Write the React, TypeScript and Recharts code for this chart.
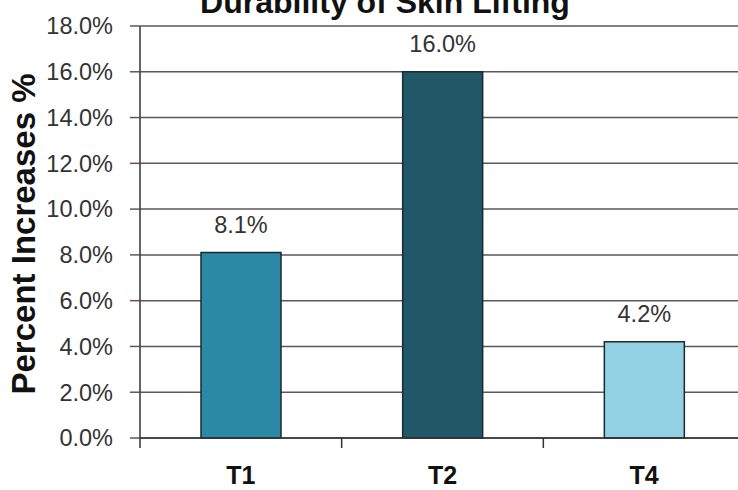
import { BarChart, Bar, Cell, XAxis, YAxis, CartesianGrid, LabelList } from "recharts";

const categories = ["T1", "T2", "T4"];
const increases = [8.1, 16.0, 4.2];
const barColors = ["#2a89a5", "#205868", "#92d0e3"];
const yTicks = [0, 2, 4, 6, 8, 10, 12, 14, 16, 18];

const data = categories.map((name, i) => ({ name, value: increases[i] }));

const pct = (v: number) => `${Number(v).toFixed(1)}%`;

// x tick: label + a small tick mark on the left boundary of each category
function CategoryTick(props: any) {
  const { x, y, payload } = props;
  const off = payload && payload.offset ? payload.offset : 100.8;
  return (
    <g>
      <line x1={x - off} y1={y} x2={x - off} y2={y + 10} stroke="#333" strokeWidth={1.5} />
      <text
        x={x}
        y={y + 46}
        textAnchor="middle"
        fontFamily="'Liberation Sans Narrow', 'Liberation Sans', Arial, sans-serif"
        fontWeight="bold"
        fontSize={25}
        fill="#111"
      >
        {payload.value}
      </text>
    </g>
  );
}

export default function App() {
  return (
    <div
      style={{
        position: "absolute",
        left: 0,
        top: 0,
        width: 738,
        height: 490,
        overflow: "hidden",
        background: "#fff",
        fontFamily: "'Liberation Sans', Arial, sans-serif",
      }}
    >
      <BarChart
        width={746}
        height={490}
        data={data}
        margin={{ top: 26, right: 1, bottom: 0, left: 0 }}
      >
        <CartesianGrid vertical={false} stroke="#5e5756" strokeWidth={1.5} />
        <XAxis
          dataKey="name"
          height={52}
          axisLine={{ stroke: "#333", strokeWidth: 1.5 }}
          tickLine={false}
          tickSize={0}
          tickMargin={0}
          tick={<CategoryTick />}
          interval={0}
        />
        <YAxis
          width={140}
          domain={[0, 18]}
          ticks={yTicks}
          interval={0}
          tickFormatter={pct}
          tickSize={10}
          tickMargin={17}
          axisLine={{ stroke: "#333", strokeWidth: 1.5 }}
          tickLine={{ stroke: "#5e5756", strokeWidth: 1.5 }}
          tick={{ fontSize: 23.5, fill: "#333" }}
        />
        <Bar dataKey="value" barSize={80} stroke="#1b2a30" strokeWidth={1.5} isAnimationActive={false}>
          {data.map((d, i) => (
            <Cell key={d.name} fill={barColors[i]} />
          ))}
          <LabelList
            dataKey="value"
            position="top"
            offset={20}
            formatter={(v: any) => pct(v)}
            style={{ fontSize: 23.5, fill: "#333" }}
          />
        </Bar>
      </BarChart>
      <svg
        width={738}
        height={490}
        style={{ position: "absolute", left: 0, top: 0, pointerEvents: "none" }}
      >
        <text
          x={385}
          y={13}
          textAnchor="middle"
          fontSize={32}
          fontWeight="bold"
          fill="#111"
        >
          Durability of Skin Lifting
        </text>
        <text
          transform="translate(35,234) rotate(-90)"
          textAnchor="middle"
          fontSize={33}
          fontWeight="bold"
          fill="#111"
        >
          Percent Increases %
        </text>
      </svg>
    </div>
  );
}
